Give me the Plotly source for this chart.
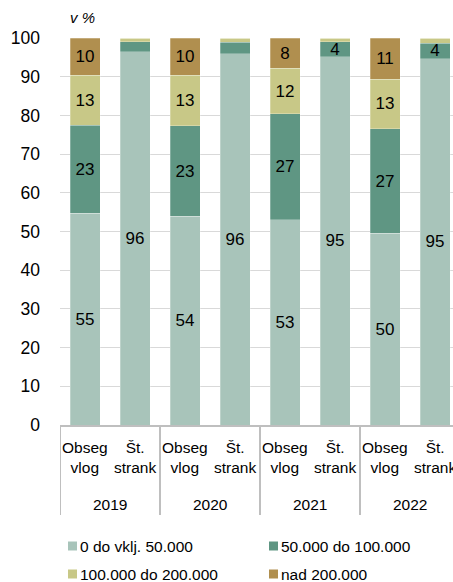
import plotly.graph_objects as go

# categories
years = ["2019", "2020", "2021", "2022"]
measures = ["Obseg<br>vlog", "Št.<br>strank"]

# series (order: per year -> Obseg vlog, Št. strank), in %
series_names = ["0 do vklj. 50.000", "50.000 do 100.000", "100.000 do 200.000", "nad 200.000"]
s_0_50 = [54.7, 96.4, 53.9, 95.9, 53.0, 95.1, 49.6, 94.6]
s_50_100 = [22.8, 2.6, 23.4, 3.0, 27.4, 3.9, 26.9, 4.1]
s_100_200 = [12.9, 0.9, 13.1, 1.0, 11.8, 0.9, 12.9, 1.2]
s_200_plus = [9.6, 0.1, 9.6, 0.1, 7.8, 0.1, 10.6, 0.1]

colors = ["#a8c4ba", "#5f9683", "#c8c887", "#b08f4f"]
FONT = "Liberation Sans, Arial, sans-serif"

W, H = 453, 582
L, T, B = 60, 38, 157
PH = H - T - B          # plot height in px
PW = W - L              # plot width in px

def px_x(p):
    return (p - L) / PW

def px_y(p):
    return (H - B - p) / PH

x_pos = list(range(len(years) * len(measures)))

fig = go.Figure()
for name, vals, col in zip(series_names, [s_0_50, s_50_100, s_100_200, s_200_plus], colors):
    labels = [f"{v:.0f}" if v >= 3.5 else "" for v in vals]
    fig.add_trace(go.Bar(
        x=x_pos, y=vals, name=name, marker_color=col,
        marker_line=dict(color="rgba(255,255,255,0.5)", width=0.5),
        text=labels, textposition="inside", insidetextanchor="middle",
        textangle=0, constraintext="none",
        textfont=dict(color="black", size=17, family=FONT),
        width=0.6, showlegend=False, hoverinfo="skip",
    ))

# category labels and group dividers
for g, yr in enumerate(years):
    for m, lab in enumerate(measures):
        fig.add_annotation(x=g * 2 + m, y=px_y(437), xref="x", yref="paper",
                           text=lab, showarrow=False, yanchor="top",
                           font=dict(size=15.5, family=FONT, color="black"))
    fig.add_annotation(x=g * 2 + 0.5, y=px_y(504), xref="x", yref="paper",
                       text=yr, showarrow=False, yanchor="middle",
                       font=dict(size=15.5, family=FONT, color="black"))
    fig.add_shape(type="line", xref="x", yref="paper",
                  x0=g * 2 - 0.5, x1=g * 2 - 0.5, y0=0, y1=px_y(515),
                  line=dict(color="#bfbfbf", width=2))

fig.add_annotation(x=px_x(68), y=px_y(18), xref="paper", yref="paper", text="<i>v %</i>",
                   showarrow=False, xanchor="left", yanchor="middle",
                   font=dict(size=15, family=FONT, color="black"))

# legend (2 columns)
leg_cols = [68, 269]
leg_rows = [546, 574]
for i, (name, col) in enumerate(zip(series_names, colors)):
    cx = leg_cols[i % 2]
    cy = leg_rows[i // 2]
    fig.add_shape(type="rect", xref="paper", yref="paper",
                  x0=px_x(cx), x1=px_x(cx + 9), y0=px_y(cy - 4.5), y1=px_y(cy + 4.5),
                  fillcolor=col, line=dict(width=0))
    fig.add_annotation(x=px_x(cx + 10), y=px_y(cy), xref="paper", yref="paper",
                       text=name, showarrow=False, xanchor="left", yanchor="middle",
                       font=dict(size=15.5, family=FONT, color="black"))

fig.update_layout(
    barmode="stack",
    width=W, height=H,
    margin=dict(l=L, r=0, t=T, b=B, autoexpand=False),
    plot_bgcolor="white", paper_bgcolor="white",
    font=dict(family=FONT, color="black"),
    showlegend=False,
)
fig.update_xaxes(range=[-0.5, -0.5 + PW / 50], showticklabels=False, ticks="",
                 showgrid=False, showline=True, linecolor="#bfbfbf", linewidth=2,
                 zeroline=False)
fig.update_yaxes(range=[0, 100], dtick=10, showgrid=True, gridcolor="#d9d9d9",
                 gridwidth=1, zeroline=False, ticks="", ticklabelstandoff=19,
                 tickfont=dict(size=17.5, family=FONT, color="black"))

# the page body has an 8px default margin; drop it so the figure fills the window
fig.write_html("out.html", config={"displayModeBar": False},
               post_script="document.body.style.margin='0';document.body.style.overflow='hidden';")
